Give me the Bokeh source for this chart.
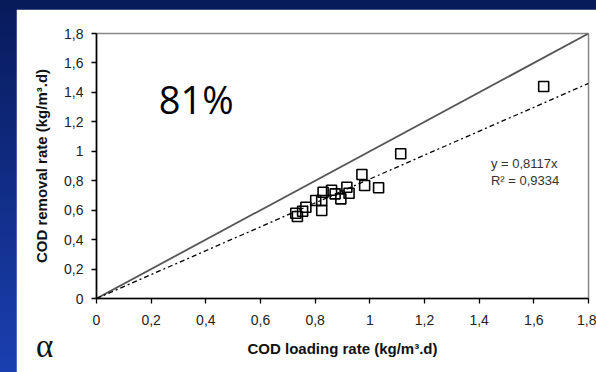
from bokeh.plotting import figure
from bokeh.models import FixedTicker, Label, Range1d, GlobalInlineStyleSheet, Div
from bokeh.layouts import column
from bokeh.embed import file_html
from bokeh.resources import INLINE

# ---- data ----
loading = [1.636, 1.113, 0.971, 0.981, 1.032, 0.916, 0.924, 0.894, 0.873, 0.860,
           0.829, 0.824, 0.824, 0.802, 0.766, 0.754, 0.729, 0.735]
removal = [1.440, 0.983, 0.842, 0.768, 0.752, 0.756, 0.715, 0.677, 0.711, 0.735,
           0.722, 0.666, 0.598, 0.666, 0.620, 0.593, 0.579, 0.557]
ref_x = [0.0, 1.8]
ref_y = [0.0, 1.8]
fit_x = [0.0, 1.8]
fit_y = [0.0, 1.461]
ticks = [0, 0.2, 0.4, 0.6, 0.8, 1, 1.2, 1.4, 1.6, 1.8]
tick_labels = ["0", "0,2", "0,4", "0,6", "0,8", "1", "1,2", "1,4", "1,6", "1,8"]
eq_text = "y = 0,8117x"
r2_text = "R² = 0,9334"
pct_text = "81%"
panel_tag = "α"

FONT = "Liberation Sans"

page_css = GlobalInlineStyleSheet(css="""
html { background: linear-gradient(to bottom, #071a5a, #1a3fb0); min-height: 100%; }
body { margin: 9px 0 0 16px; }
""")

p = figure(width=580, height=363, output_backend="svg", toolbar_location=None,
           x_range=Range1d(0, 1.8), y_range=Range1d(0, 1.8),
           min_border_left=80, min_border_right=8, min_border_top=24, min_border_bottom=74)
p.border_fill_color = "white"
p.background_fill_color = "white"
p.outline_line_color = "#888888"
p.outline_line_width = 1.5
p.xgrid.visible = False
p.ygrid.visible = False

overrides = {t: l for t, l in zip(ticks, tick_labels)}
for ax in (p.xaxis[0], p.yaxis[0]):
    ax.ticker = FixedTicker(ticks=ticks)
    ax.major_label_overrides = overrides
    ax.minor_tick_line_color = None
    ax.major_tick_in = 0
    ax.major_tick_out = 5
    ax.axis_line_color = "black"
    ax.axis_line_width = 1.6
    ax.major_tick_line_color = "black"
    ax.major_tick_line_width = 1.3
    ax.major_label_text_font = FONT
    ax.major_label_text_font_size = "14px"
    ax.major_label_text_color = "#222222"
    ax.axis_label_text_font = FONT
    ax.axis_label_text_font_size = "15px"
    ax.axis_label_text_font_style = "bold"
    ax.axis_label_text_color = "#111111"

p.xaxis.axis_label = "COD loading rate (kg/m³.d)"
p.yaxis.axis_label = "COD removal rate (kg/m³.d)"
p.xaxis.major_label_standoff = 11
p.xaxis.axis_label_standoff = 12
p.yaxis.major_label_standoff = 8
p.yaxis.axis_label_standoff = 11

p.line(ref_x, ref_y, line_color="#555555", line_width=1.8)
p.line(fit_x, fit_y, line_color="black", line_width=1.3, line_dash="5 3 2 3")
p.scatter(loading, removal, marker="square", size=10, fill_color=None,
          line_color="black", line_width=1.6)

p.add_layout(Label(x=0.228, y=1.352, text=pct_text, text_font="Open Sans",
                   text_font_size="38px", text_color="black",
                   text_baseline="alphabetic"))
p.add_layout(Label(x=1.443, y=0.917, text=eq_text, text_font=FONT,
                   text_font_size="13px", text_color="#333333",
                   text_baseline="alphabetic"))
p.add_layout(Label(x=1.443, y=0.801, text=r2_text, text_font=FONT,
                   text_font_size="13px", text_color="#333333",
                   text_baseline="alphabetic"))

tag = Div(text=panel_tag, width=30, height=34,
          styles={"position": "absolute", "left": "20px", "top": "321px",
                  "font-family": "'Liberation Serif', serif", "font-size": "33px",
                  "line-height": "1", "color": "#111111", "margin": "0",
                  "padding": "0", "z-index": "10"})

layout = column(p, tag, spacing=0)
layout.stylesheets = [page_css]
layout.styles = {"box-shadow": "-2px -2px 0 #3a3a3a", "position": "relative"}

open("out.html", "w").write(file_html(layout, INLINE))
